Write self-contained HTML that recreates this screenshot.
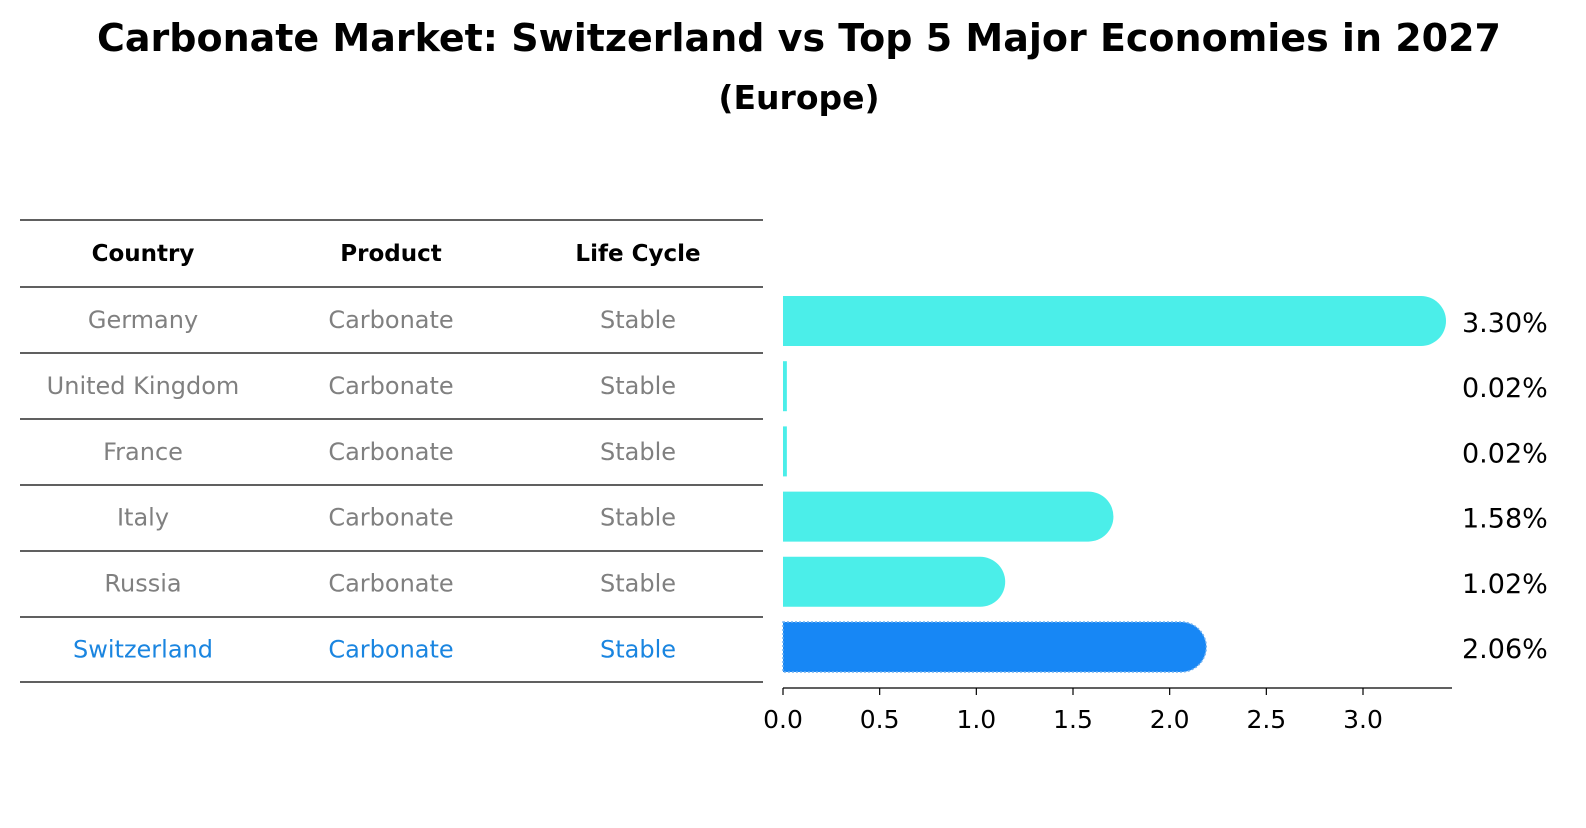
<!DOCTYPE html>
<html><head><meta charset="utf-8"><style>
body{margin:0;background:#fff;font-family:"Liberation Sans","DejaVu Sans",sans-serif;}
svg text{font-family:"DejaVu Sans","Liberation Sans",sans-serif;}
</style></head><body>
<svg id="chart" width="1586" height="823" viewBox="0 0 1586 823" xmlns="http://www.w3.org/2000/svg">
<text x="799" y="51" text-anchor="middle" font-size="38" font-weight="bold">Carbonate Market: Switzerland vs Top 5 Major Economies in 2027</text>
<text x="799" y="109" text-anchor="middle" font-size="33" font-weight="bold">(Europe)</text>
<g id="table"></g>
<g id="bars"></g>
<g id="axis"></g>
</svg>
<script>
const countries=["Germany","United Kingdom","France","Italy","Russia","Switzerland"];
const products=["Carbonate","Carbonate","Carbonate","Carbonate","Carbonate","Carbonate"];
const lifeCycles=["Stable","Stable","Stable","Stable","Stable","Stable"];
const values=[3.30,0.02,0.02,1.58,1.02,2.06];
const xTicks=[0.0,0.5,1.0,1.5,2.0,2.5,3.0];
const highlight="Switzerland";

const NS="http://www.w3.org/2000/svg";
function mk(tag,attrs,parent){const e=document.createElementNS(NS,tag);for(const k in attrs)e.setAttribute(k,attrs[k]);parent.appendChild(e);return e;}
const x0=783,scale=(1363-783)/3;
const xs=v=>x0+v*scale;
const rowY=i=>321+i*65.2;
const table=document.getElementById('table'),bars=document.getElementById('bars'),axis=document.getElementById('axis');
const colX=[143,391,638];
const lineYs=[220,287];
for(let i=0;i<countries.length;i++)lineYs.push(Math.round(287+(i+1)*65.9));
lineYs.forEach((y,i)=>{const l=mk('line',{x1:20,x2:763,y1:y,y2:y,stroke:'#000','stroke-width':1.2},table);
});
["Country","Product","Life Cycle"].forEach((h,j)=>{const t=mk('text',{x:colX[j],y:261,'text-anchor':'middle','font-size':23,'font-weight':'bold'},table);t.textContent=h;
});
countries.forEach((c,i)=>{
  const y=287+i*65.9+33+8;
  const col=c===highlight?'#1a85e0':'#808080';
  [c,products[i],lifeCycles[i]].forEach((s,j)=>{const t=mk('text',{x:colX[j],y:y,'text-anchor':'middle','font-size':24,fill:col},table);t.textContent=s;
  });
  const v=values[i],w=xs(v)-x0,cy=rowY(i),h=50;
  const isH=c===highlight,fill=isH?'#1787f5':'#4beee9';
  let d;
  if(w>=25){d=`M${x0},${cy-h/2} H${x0+w} A25,25 0 0 1 ${x0+w},${cy+h/2} H${x0} Z`;}
  else{d=`M${x0},${cy-h/2} H${x0+w} V${cy+h/2} H${x0} Z`;}
  const p=mk('path',{d:d,fill:fill},bars);
  if(isH){p.setAttribute('stroke','#6fb0f0');p.setAttribute('stroke-dasharray','2,2');p.setAttribute('stroke-width','1.5');}
  
  const t=mk('text',{x:1462,y:cy+11,'font-size':27},bars);t.textContent=v.toFixed(2)+'%';
  
});
const al=mk('line',{x1:x0,x2:1452,y1:688,y2:688,stroke:'#000','stroke-width':1.3},axis);

xTicks.forEach(v=>{const tk=mk('line',{x1:xs(v),x2:xs(v),y1:688,y2:695,stroke:'#000','stroke-width':1.2},axis);

const t=mk('text',{x:xs(v),y:728,'text-anchor':'middle','font-size':25},axis);t.textContent=v.toFixed(1);
});
</script>
</body></html>
